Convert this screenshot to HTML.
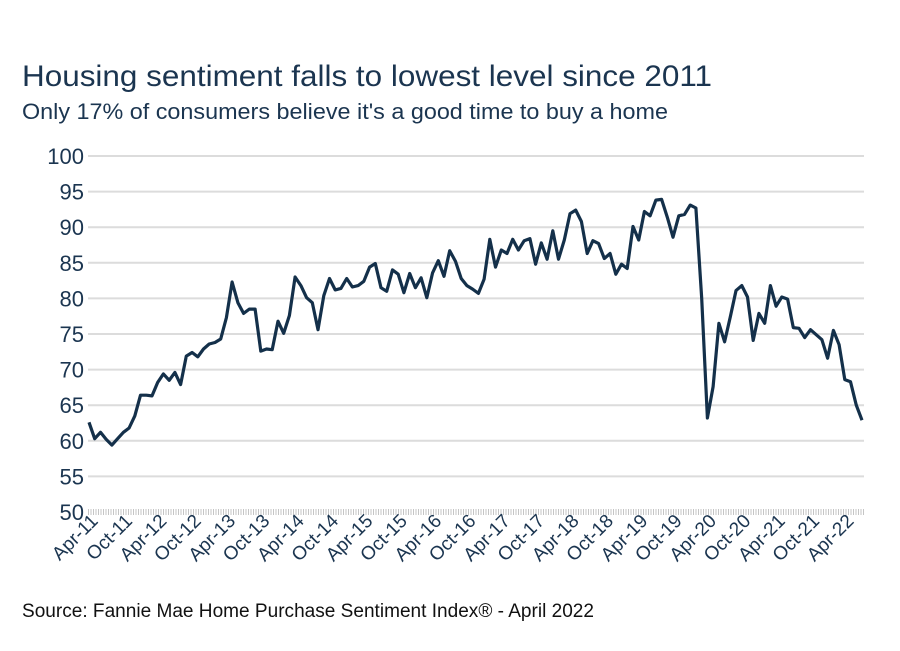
<!DOCTYPE html>
<html><head><meta charset="utf-8"><style>
html,body{margin:0;padding:0;background:#fff;}
svg{display:block;font-family:"Liberation Sans",sans-serif;}
</style></head><body>
<svg id="chart" width="900" height="651" viewBox="0 0 900 651">
<text x="22" y="86" font-size="30" fill="#1b3550" textLength="690" lengthAdjust="spacingAndGlyphs">Housing sentiment falls to lowest level since 2011</text>
<text x="22" y="119" font-size="22" fill="#1b3550" textLength="646" lengthAdjust="spacingAndGlyphs">Only 17% of consumers believe it's a good time to buy a home</text>
<g id="grid"></g><g id="yticks"></g><g id="xticks"></g><g id="series"></g>
<text x="22" y="617" font-size="19" fill="#111" textLength="572" lengthAdjust="spacingAndGlyphs">Source: Fannie Mae Home Purchase Sentiment Index® - April 2022</text>
</svg>
<script>
const yTicks = [50,55,60,65,70,75,80,85,90,95,100];
const xLabels = ["Apr-11","Oct-11","Apr-12","Oct-12","Apr-13","Oct-13","Apr-14","Oct-14","Apr-15","Oct-15","Apr-16","Oct-16","Apr-17","Oct-17","Apr-18","Oct-18","Apr-19","Oct-19","Apr-20","Oct-20","Apr-21","Oct-21","Apr-22"];
const hpsi = [62.6,60.3,61.2,60.2,59.4,60.3,61.2,61.8,63.5,66.4,66.4,66.3,68.2,69.4,68.5,69.6,67.9,71.9,72.4,71.8,72.9,73.6,73.8,74.3,77.3,82.3,79.4,77.9,78.5,78.5,72.6,72.9,72.8,76.8,75.1,77.6,83.0,81.8,80.1,79.4,75.6,80.4,82.8,81.2,81.4,82.8,81.6,81.8,82.4,84.4,84.9,81.5,81.0,84.0,83.4,80.8,83.5,81.5,82.9,80.1,83.6,85.3,
83.1,86.7,85.2,82.8,81.8,81.3,80.7,82.7,88.3,84.4,86.8,86.3,88.3,86.8,88.1,88.4,84.8,87.8,85.5,89.5,85.5,88.2,91.9,92.4,90.8,86.3,88.1,87.7,85.6,86.3,83.4,84.8,84.2,90.1,88.2,92.2,91.6,93.8,93.9,91.4,88.6,91.6,91.8,93.1,92.7,80.0,63.2,67.6,76.5,73.9,77.4,81.1,81.8,80.2,74.1,77.9,76.5,81.8,78.9,80.2,79.9,75.9,75.8,74.5,75.6,74.9,74.2,71.6,75.5,73.5,68.6,68.3,65.0,62.9];

const NS="http://www.w3.org/2000/svg";
const X0=89, X1=862, Y0=512, Y1=156, YMIN=50, YMAX=100;
const xs = i => X0 + i*(X1-X0)/135;
const ys = v => Y0 - (v-YMIN)*(Y0-Y1)/(YMAX-YMIN);
function mk(tag, attrs, parent){const e=document.createElementNS(NS,tag);for(const k in attrs)e.setAttribute(k,attrs[k]);parent.appendChild(e);return e;}
const grid=document.getElementById('grid'), yt=document.getElementById('yticks'), xt=document.getElementById('xticks'), ser=document.getElementById('series');
yTicks.forEach(v=>{
  const y=ys(v);
  if(v===YMIN){
    for(let k=-2;k<=2;k+=2){
      const l=mk('line',{x1:X0-1,x2:X1+3,y1:y+k,y2:y+k,stroke:'#666','stroke-width':0.8,'stroke-dasharray':'1,1.5'},grid);
      
      
    }
  } else {
    const l=mk('line',{x1:X0-1,x2:X1+2,y1:y,y2:y,stroke:'#dcdcdc','stroke-width':2},grid);
    
    
  }
  const t=mk('text',{x:84,y:y+8,'text-anchor':'end','font-size':22,fill:'#1b3550'},yt);
  t.textContent=v;
  
  
});
xLabels.forEach((lab,k)=>{
  const x=xs(k*6)+10, y=522;
  const t=mk('text',{x:x,y:y,'text-anchor':'end','font-size':19,fill:'#1b3550',transform:`rotate(-45 ${x} ${y})`},xt);
  t.textContent=lab;
  
  
});
const d=hpsi.map((v,i)=>(i?'L':'M')+xs(i).toFixed(1)+','+ys(v).toFixed(1)).join(' ');
const p=mk('path',{d:d,fill:'none',stroke:'#14304a','stroke-width':3.2,'stroke-linejoin':'round'},ser);


</script>
</body></html>
